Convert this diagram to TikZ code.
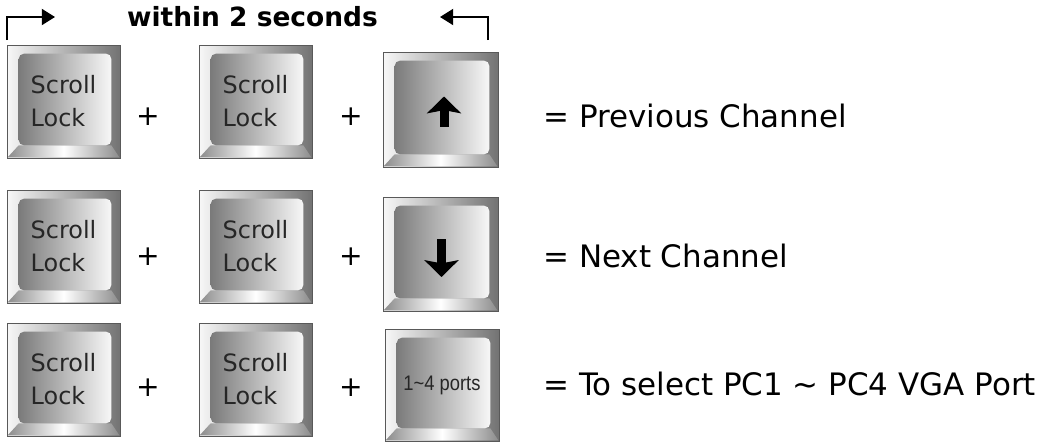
\documentclass[tikz,border=0pt]{standalone}
\usepackage{fontspec}
\setmainfont{DejaVu Sans}
\newfontfamily\portsfont{Liberation Sans}
\usetikzlibrary{arrows.meta, positioning, calc}

\tikzset{
  keyframe/.style={draw=black!65, line width=0.6pt, left color=black!3, right color=black!55, inner sep=0pt},
  keybevel/.style={left color=black!45, right color=black!45, middle color=white},
  keyface/.style={left color=black!52, right color=black!3, rounded corners=4pt},
  keylabel/.style={align=left, text=black!85, font=\fontsize{17}{23.5}\selectfont},
  portslabel/.style={text=black!85, xscale=0.87, font=\portsfont\fontsize{15}{17}\selectfont},
  keyglyph/.style={line width=0.225cm, -{Stealth[length=0.42cm, width=0.85cm, inset=0.08cm]}},
  plus/.style={font=\fontsize{20}{24}\selectfont},
  result/.style={anchor=base west, inner sep=0pt, font=\fontsize{22}{26}\selectfont},
  title/.style={anchor=base, inner sep=0pt, font=\bfseries\fontsize{18.8}{22}\selectfont},
  bracket/.style={line width=1.4pt, -{Triangle[length=0.33cm, width=0.4cm]}}
}

% key cap: name, centre, width and height in px
\newcommand{\keycap}[4]{%
  \node[keyframe, minimum width=#3*0.025cm, minimum height=#4*0.025cm] (#1) at (#2) {};
  \shade[keybevel] ($(#1.south west)+(1,-1)$) -- ($(#1.south east)+(-1,-1)$)
    -- ($(#1.south east)+(-9,-13)$) -- ($(#1.south west)+(12,-13)$) -- cycle;
  \shade[keyface] ($(#1.south west)+(12,-13)$) rectangle ($(#1.north east)+(-9,9)$);
}

\begin{document}
\begin{tikzpicture}[x=0.025cm, y=-0.025cm]
  \useasboundingbox (0,0) rectangle (1059,441);

  % Title with the two bracket arrows
  \node[title] (title) at (252.5,26) {within 2 seconds};
  \coordinate (lfoot) at (7,40);
  \coordinate (ltip) at (55,17);
  \draw[bracket] (lfoot) |- (ltip);
  \coordinate (rfoot) at (488,40);
  \coordinate (rtip) at (440,17);
  \draw[bracket] (rfoot) |- (rtip);

  % Row 1 (previous channel)
  \keycap{k11}{63.5,101.5}{113}{113}
  \node[keylabel] (l11) at (k11) {Scroll\\Lock};
  \node[plus] (p11) at (148,117) {+};
  \keycap{k12}{255.5,101.5}{113}{113}
  \node[keylabel] (l12) at (k12) {Scroll\\Lock};
  \node[plus] (p12) at (351,117) {+};
  \keycap{k13}{440.5,109.5}{115}{115}
  \draw[keyglyph] ($(k13)+(3.5,17)$) -- ($(k13)+(3.5,-13)$);
  \node[result] (r1) at (543,127) {= Previous Channel};

  % Row 2 (next channel)
  \keycap{k21}{63.5,246.5}{113}{113}
  \node[keylabel] (l21) at (k21) {Scroll\\Lock};
  \node[plus] (p21) at (148,257) {+};
  \keycap{k22}{255.5,246.5}{113}{113}
  \node[keylabel] (l22) at (k22) {Scroll\\Lock};
  \node[plus] (p22) at (351,257) {+};
  \keycap{k23}{440.5,254}{115}{114}
  \draw[keyglyph] ($(k23)+(1,-15)$) -- ($(k23)+(1,23)$);
  \node[result] (r2) at (543,267) {= Next Channel};

  % Row 3 (select port)
  \keycap{k31}{63.5,379.5}{113}{113}
  \node[keylabel] (l31) at (k31) {Scroll\\Lock};
  \node[plus] (p31) at (148,388) {+};
  \keycap{k32}{255.5,379.5}{113}{113}
  \node[keylabel] (l32) at (k32) {Scroll\\Lock};
  \node[plus] (p32) at (351,388) {+};
  \keycap{k33}{442,385}{114}{112}
  \node[portslabel] (l33) at (k33) {1\textasciitilde4 ports};
  \node[result] (r3) at (543,395) {= To select PC1 \textasciitilde{} PC4 VGA Port};
\end{tikzpicture}
\end{document}
